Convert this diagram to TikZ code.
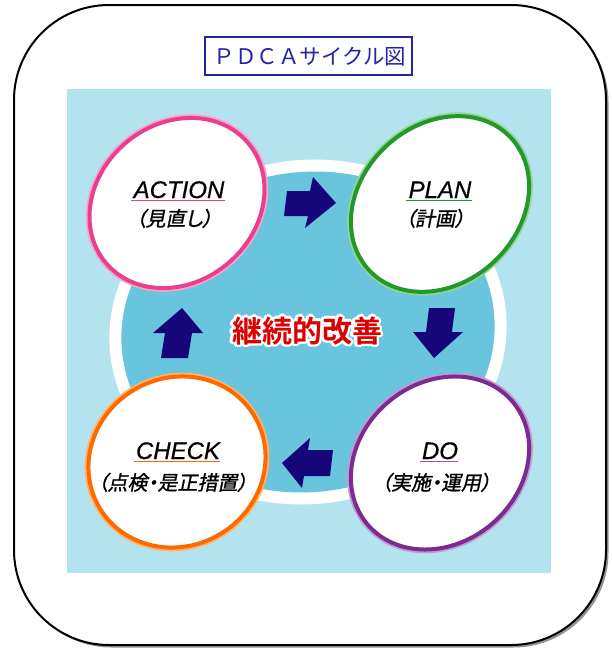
\documentclass[tikz,border=0pt]{standalone}
\usepackage{fontspec}
\usetikzlibrary{shapes.geometric,calc}
\setmainfont{Liberation Sans}
\newfontfamily\enit[FakeBold=0.5]{Liberation Sans Italic}
\newfontfamily\jptitle{Noto Sans CJK JP}
\newfontfamily\jpsl[FakeSlant=0.2,FakeBold=1.2,RawFeature=+palt]{Noto Sans CJK JP}
\newfontfamily\jpbold{Noto Sans CJK JP Bold}
\definecolor{lightbg}{HTML}{B3E3EF}
\definecolor{midblue}{HTML}{68C5DD}
\definecolor{navy}{HTML}{16067A}
\definecolor{titleblue}{HTML}{2424A4}
\definecolor{pinkc}{HTML}{E8408F}
\definecolor{pinkh}{HTML}{F4A6CC}
\definecolor{greenc}{HTML}{22982A}
\definecolor{greenh}{HTML}{94D494}
\definecolor{orangec}{HTML}{FF6A00}
\definecolor{orangeh}{HTML}{FFB466}
\definecolor{purplec}{HTML}{7B2C90}
\definecolor{purpleh}{HTML}{C49AD2}
\definecolor{redc}{HTML}{DD0000}
\tikzset{
  blockarrow/.style={fill=navy},
  enlabel/.style={inner sep=0pt, anchor=base, font=\enit\fontsize{24}{26}\selectfont},
  jplabel/.style={inner sep=0pt, anchor=base, font=\jpsl\fontsize{20}{22}\selectfont},
  uline/.style={line width=1.5pt},
  centertext/.style={inner sep=0pt, font=\jpbold\fontsize{30}{32}\selectfont},
}
\newcommand\pdcaring[8]{%
  \node[ellipse, inner sep=0pt, draw=#8, line width=7.5pt, minimum width=2*#4, minimum height=2*#5, rotate=#6] (#1h) at (#2,#3) {};
  \node[ellipse, inner sep=0pt, draw=#7, fill=white, line width=4pt, minimum width=2*#4, minimum height=2*#5, rotate=#6] (#1) at (#2,#3) {};
}
\begin{document}
\begin{tikzpicture}[x=1pt,y=-1pt]
\useasboundingbox (0,0) rectangle (611,648);
% frame with shadow
\fill[gray!85, rounded corners=95pt] (16.5,7.5) rectangle (608.5,647.5);
\draw[line width=2pt, fill=white, rounded corners=95pt] (14,5) rectangle (606,645);
% title
\draw[titleblue, line width=1.5pt] (205,37) rectangle (412,75);
\node[text=titleblue, inner sep=0pt, font=\jptitle\fontsize{21.5}{23}\selectfont] (title) at (310,56.5) {ＰＤＣＡサイクル図};
% background
\fill[lightbg] (67,89) rectangle (551,573);
\node[ellipse, inner sep=0pt, fill=white, minimum width=398, minimum height=344, rotate=7] (ring) at (308,332) {};
\node[ellipse, inner sep=0pt, fill=midblue, minimum width=374, minimum height=320, rotate=7] (core) at (308,332) {};
% block arrows
\fill[blockarrow] (287,191) -- (310,191) -- (313,177) -- (336,203) -- (305,228) -- (308,216) -- (284,216) -- cycle;
\fill[blockarrow] (429,308) -- (455,308) -- (452,332) -- (463,332) -- (434,358) -- (413,332) -- (426,332) -- cycle;
\fill[blockarrow] (282,463) -- (310,438) -- (308,450) -- (333,450) -- (330,476) -- (304,476) -- (302,488) -- cycle;
\fill[blockarrow] (182,308) -- (203,333) -- (192,333) -- (188,358) -- (161,358) -- (165,333) -- (153,333) -- cycle;
% circles
\pdcaring{act}{177}{203}{93}{79}{40}{pinkc}{pinkh}
\pdcaring{plan}{440}{204}{97}{79}{43}{greenc}{greenh}
\pdcaring{chk}{177}{462}{90}{84}{30}{orangec}{orangeh}
\pdcaring{do}{440}{463}{95}{80}{40}{purplec}{purpleh}
% labels
\node[enlabel] (actE) at (179,198) {ACTION};
\draw[uline, pinkc] ($(actE.base west)+(-2,2.5)$) -- ($(actE.base east)+(0,2.5)$);
\node[jplabel] (actJ) at (174,226) {（見直し）};
\node[enlabel] (planE) at (440,198) {PLAN};
\draw[uline, greenc] ($(planE.base west)+(-2,2.5)$) -- ($(planE.base east)+(0,2.5)$);
\node[jplabel] (planJ) at (435,226) {（計画）};
\node[enlabel] (chkE) at (178,459) {CHECK};
\draw[uline, orangec] ($(chkE.base west)+(-2,2.5)$) -- ($(chkE.base east)+(0,2.5)$);
\node[jplabel] (chkJ) at (172.5,490) {（点検・是正措置）};
\node[enlabel] (doE) at (440,459) {DO};
\draw[uline, purplec!80] ($(doE.base west)+(-2,2.5)$) -- ($(doE.base east)+(0,2.5)$);
\node[jplabel] (doJ) at (436,490) {（実施・運用）};
% center text with white outline
\foreach \ang [count=\i] in {0,30,...,330} {
  \node[centertext, text=white] (cw\i) at ($(307,331)+(\ang:2.6)$) {継続的改善};
}
\node[centertext, text=redc] (center) at (307,331) {継続的改善};
\end{tikzpicture}
\end{document}
